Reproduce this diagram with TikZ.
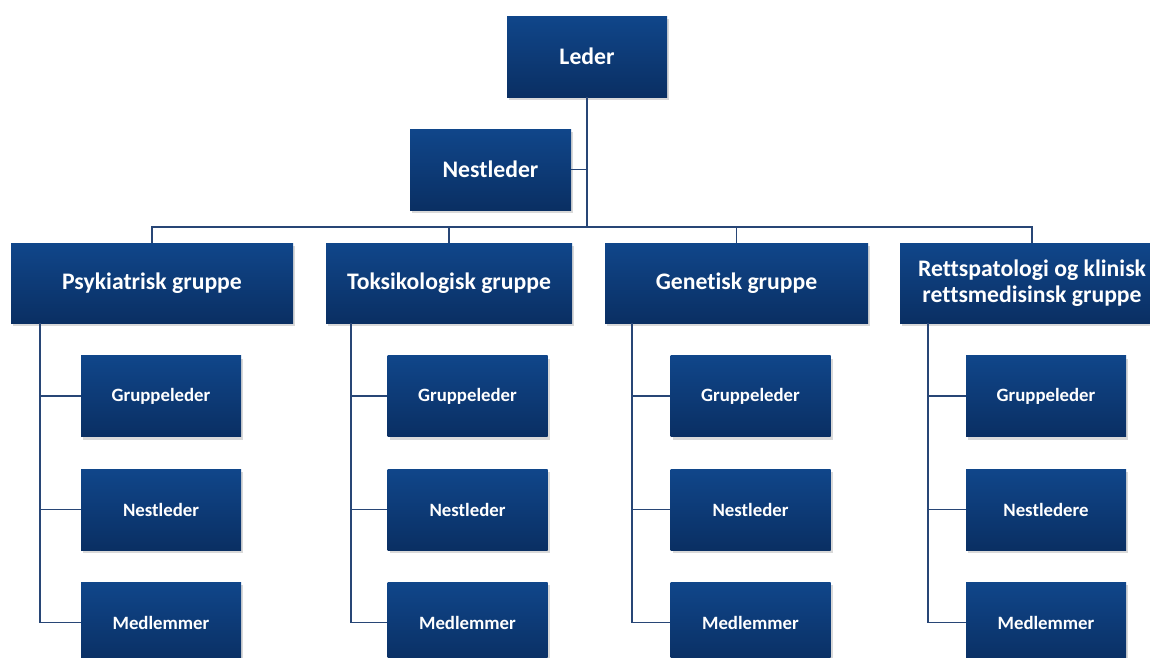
\documentclass[tikz,border=0pt]{standalone}
\usepackage{fontspec}
\setmainfont{Carlito}[Ligatures={NoCommon}]
\usetikzlibrary{shadows}
\definecolor{boxtop}{RGB}{16,70,138}
\definecolor{boxbot}{RGB}{10,47,99}
\definecolor{linec}{RGB}{40,70,118}
\tikzset{
  orgbox/.style={rectangle, inner sep=0pt, top color=boxtop, bottom color=boxbot, draw=none,
    text=white, align=center, font=\fontsize{23.7}{26}\selectfont\bfseries,
    drop shadow={opacity=0.3, shadow xshift=2pt, shadow yshift=-3pt}},
  bigbox/.style={orgbox, minimum height=80pt},
  subbox/.style={orgbox, minimum width=160pt, minimum height=81pt, font=\fontsize{18.8}{22}\selectfont\bfseries},
  conn/.style={draw=linec, line width=1.9pt}
}
\begin{document}
\begin{tikzpicture}[x=1pt,y=-1pt]
\useasboundingbox (0,0) rectangle (1150,657);
\coordinate (bus) at (587,227);
\coordinate (psyT) at (40,323);
\coordinate (tokT) at (351,323);
\coordinate (genT) at (632,323);
\coordinate (retT) at (928,323);

\node[bigbox, minimum width=160pt, minimum height=81pt] (leder) at (587,56.5) {Leder};
\node[bigbox, minimum width=161pt, minimum height=81pt] (nest) at (490.5,169.5) {Nestleder};
\node[bigbox, minimum width=282pt] (psy) at (152,283) {Psykiatrisk gruppe};
\node[bigbox, minimum width=246pt] (tok) at (449,283) {Toksikologisk gruppe};
\node[bigbox, minimum width=263pt] (gen) at (736.5,283) {Genetisk gruppe};
\node[bigbox, minimum width=264pt] (ret) at (1032,283) {Rettspatologi og klinisk\\rettsmedisinsk gruppe};

\node[subbox] (psyA) at (161,396) {Gruppeleder};
\node[subbox] (psyB) at (161,509.5) {Nestleder};
\node[subbox] (psyC) at (161,622.5) {Medlemmer};
\node[subbox] (tokA) at (467.5,396) {Gruppeleder};
\node[subbox] (tokB) at (467.5,509.5) {Nestleder};
\node[subbox] (tokC) at (467.5,622.5) {Medlemmer};
\node[subbox] (genA) at (750.5,396) {Gruppeleder};
\node[subbox] (genB) at (750.5,509.5) {Nestleder};
\node[subbox] (genC) at (750.5,622.5) {Medlemmer};
\node[subbox] (retA) at (1046,396) {Gruppeleder};
\node[subbox] (retB) at (1046,509.5) {Nestledere};
\node[subbox] (retC) at (1046,622.5) {Medlemmer};

\draw[conn] (leder.south) -- (bus);
\draw[conn] (nest.east) -- (nest.east -| leder.south);
\draw[conn] (bus) -| (psy.north);
\draw[conn] (bus) -| (tok.north);
\draw[conn] (bus) -| (gen.north);
\draw[conn] (bus) -| (ret.north);
\foreach \g in {psy,tok,gen,ret}{
  \draw[conn] (\g T) |- (\g C.west);
  \draw[conn] (\g T |- \g A.west) -- (\g A.west);
  \draw[conn] (\g T |- \g B.west) -- (\g B.west);
}
\end{tikzpicture}
\end{document}
